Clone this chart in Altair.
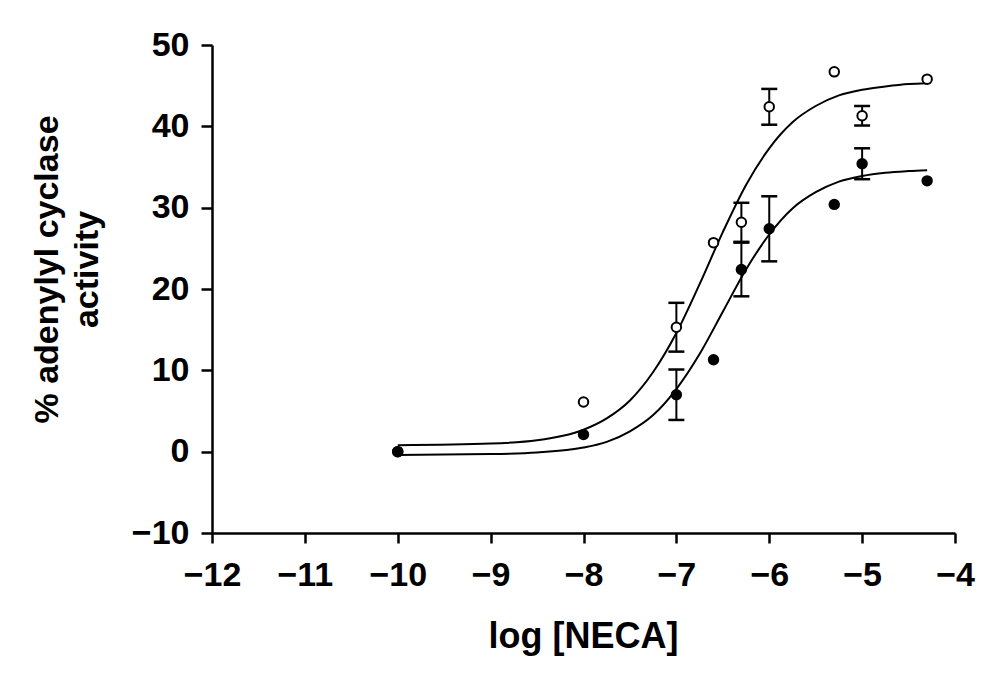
import altair as alt
import pandas as pd

# Measured points (log[NECA], % adenylyl cyclase activity)
x_conc = [-10, -8, -7, -6.6, -6.3, -6, -5.3, -5, -4.3]
y_open = [0, 6.1, 15.3, 25.7, 28.2, 42.4, 46.7, 41.3, 45.8]
err_open = [0, 0, 3.0, 0, 2.4, 2.2, 0, 1.2, 0]
y_filled = [0, 2.1, 7.0, 11.3, 22.4, 27.4, 30.4, 35.4, 33.3]
err_filled = [0, 0, 3.1, 0, 3.3, 4.0, 0, 1.9, 0]

# Fitted curves
x_curve = [-10, -9, -8.5, -8, -7.75, -7.5, -7.25, -7, -6.75, -6.5, -6.25, -6,
           -5.75, -5.5, -5.25, -5, -4.75, -4.5, -4.3]
y_curve_open = [0.8, 1.0, 1.4, 2.7, 4.1, 6.3, 9.8, 14.6, 20.6, 27.0, 32.8, 37.3,
                40.5, 42.5, 43.8, 44.5, 44.9, 45.2, 45.3]
y_curve_filled = [-0.4, -0.3, -0.1, 0.5, 1.2, 2.5, 4.5, 7.7, 12.0, 17.2, 22.4, 26.7,
                  29.9, 31.9, 33.2, 33.9, 34.3, 34.5, 34.6]

x_ticks = list(range(-12, -3))
y_ticks = list(range(-10, 51, 10))

pts = pd.DataFrame({
    "x": x_conc * 2,
    "y": y_open + y_filled,
    "err": err_open + err_filled,
    "series": ["open"] * len(x_conc) + ["filled"] * len(x_conc),
})
pts["lo"] = pts["y"] - pts["err"]
pts["hi"] = pts["y"] + pts["err"]
bars = pts[pts["err"] > 0]

curves = pd.DataFrame({
    "x": x_curve * 2,
    "y": y_curve_open + y_curve_filled,
    "series": ["open"] * len(x_curve) + ["filled"] * len(x_curve),
})

FONT = "Liberation Sans, Arial, Helvetica, sans-serif"

xs = alt.Scale(domain=[-12, -4], nice=False, zero=False)
ys = alt.Scale(domain=[-10, 50], nice=False, zero=False)

xax = alt.Axis(values=x_ticks, format="d", title="log [NECA]", grid=False,
               titleX=371, titleY=114, titleBaseline="alphabetic", titleAlign="center",
               titleFontSize=36, labelPadding=15, tickSize=10)
yax = alt.Axis(values=y_ticks, format="d", title=["% adenylyl cyclase", "activity"], grid=False,
               titleX=-155, titleY=224, titleBaseline="alphabetic", titleAlign="center",
               titleAngle=-90, titleLineHeight=40, titleFontSize=34,
               labelPadding=12, tickSize=11)

curve_layer = alt.Chart(curves).mark_line(
    color="black", strokeWidth=2, interpolate="monotone"
).encode(
    x=alt.X("x:Q", scale=xs, axis=xax),
    y=alt.Y("y:Q", scale=ys, axis=yax),
    detail="series:N",
)

rule_layer = alt.Chart(bars).mark_rule(color="black", strokeWidth=2).encode(
    x=alt.X("x:Q", scale=xs),
    y=alt.Y("lo:Q", scale=ys),
    y2="hi:Q",
)
cap_lo = alt.Chart(bars).mark_tick(color="black", orient="horizontal", size=16, thickness=2.5, opacity=1).encode(
    x=alt.X("x:Q", scale=xs),
    y=alt.Y("lo:Q", scale=ys),
)
cap_hi = alt.Chart(bars).mark_tick(color="black", orient="horizontal", size=16, thickness=2.5, opacity=1).encode(
    x=alt.X("x:Q", scale=xs),
    y=alt.Y("hi:Q", scale=ys),
)

open_layer = alt.Chart(pts[pts["series"] == "open"]).mark_point(
    shape="circle", size=90, filled=False, fill="white", fillOpacity=1,
    stroke="black", strokeWidth=2, opacity=1
).encode(
    x=alt.X("x:Q", scale=xs),
    y=alt.Y("y:Q", scale=ys),
)
filled_layer = alt.Chart(pts[pts["series"] == "filled"]).mark_point(
    shape="circle", size=130, filled=True, color="black", opacity=1
).encode(
    x=alt.X("x:Q", scale=xs),
    y=alt.Y("y:Q", scale=ys),
)

chart = alt.layer(curve_layer, rule_layer, cap_lo, cap_hi, open_layer, filled_layer).properties(
    width=743, height=488,
    autosize=alt.AutoSizeParams(type="none"),
    padding={"left": 204, "top": 37, "right": 41, "bottom": 136},
).configure_view(stroke=None).configure_axis(
    labelFont=FONT, titleFont=FONT, labelFontSize=34, titleFontSize=34,
    labelFontWeight="bold", titleFontWeight="bold",
    labelColor="black", titleColor="black",
    domainColor="black", tickColor="black", domainWidth=2.5, tickWidth=2.5,
    labelOverlap=False, labelFlush=False,
)

chart.save("out.html", embed_options={"renderer": "svg", "actions": False})
